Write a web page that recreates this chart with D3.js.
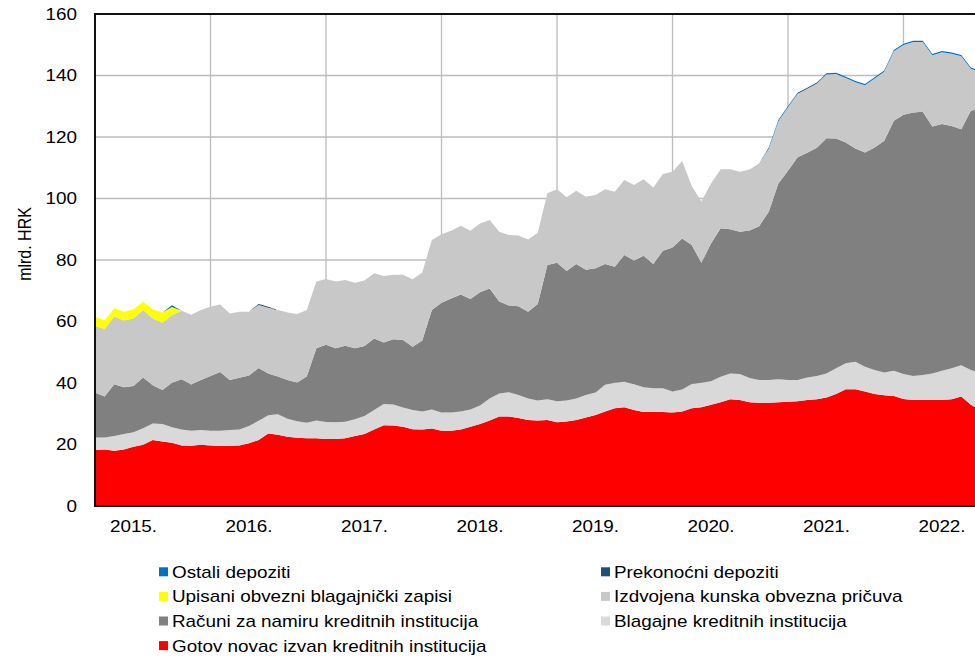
<!DOCTYPE html>
<html><head><meta charset="utf-8">
<script src="https://cdn.jsdelivr.net/npm/d3@7"></script>
<style>
body{margin:0;background:#fff}
svg{display:block;font-family:"Liberation Sans",Arial,sans-serif;font-size:16px}
</style>
</head><body>
<svg id="c" width="975" height="658"></svg>
<script>
// Monthly data, starting September 2014 (bn HRK)
const startMonth = new Date(2014, 8, 1);

const gotovNovac = [
 18.2,18.4,18.0,18.4,19.3,19.9,21.5,21.0,20.6,19.7,
 19.6,19.9,19.7,19.5,19.6,19.7,20.4,21.5,23.6,23.2,
 22.5,22.2,22.0,22.0,21.8,21.8,22.0,22.8,23.4,24.9,
 26.3,26.2,25.8,25.0,24.9,25.2,24.5,24.5,24.9,25.8,
 26.7,27.8,29.1,29.1,28.6,28.0,27.8,28.0,27.2,27.5,
 28.0,28.8,29.6,30.7,31.8,32.1,31.2,30.6,30.6,30.6,
 30.4,30.7,31.8,32.1,32.9,33.7,34.7,34.5,33.7,33.6,
 33.6,33.7,33.9,34.1,34.5,34.7,35.3,36.4,38.0,38.0,
 37.2,36.4,36.0,35.8,34.8,34.5,34.5,34.5,34.5,34.7,
 35.6,32.9,31.2];

const blagajne = [
 4.1,3.9,4.8,5.0,4.7,5.4,5.3,5.7,5.0,5.2,
 4.9,4.8,4.8,5.0,5.1,5.2,5.6,6.2,5.9,6.6,
 5.9,5.4,5.1,5.8,5.5,5.4,5.4,5.4,5.9,6.3,
 6.9,6.8,6.2,6.2,5.8,6.2,5.9,5.9,5.8,5.6,
 6.0,7.2,7.5,7.9,7.5,7.0,6.5,6.7,6.9,6.8,
 7.0,7.3,7.3,8.7,8.3,8.3,8.4,8.0,7.7,7.7,
 6.8,7.2,7.9,8.0,7.7,8.3,8.4,8.4,7.9,7.4,
 7.4,7.5,7.1,6.9,7.3,7.6,7.8,8.4,8.4,8.9,
 8.1,7.8,7.4,8.2,8.1,7.8,8.1,8.6,9.5,10.1,
 10.2,11.3,12.2];

const racuni = [
 14.6,13.3,16.8,15.2,15.0,16.5,12.5,11.0,14.5,16.3,
 15.0,16.3,17.8,19.1,16.3,16.8,16.4,17.2,13.6,12.3,
 12.6,12.6,15.0,23.5,25.1,24.1,24.7,23.1,22.7,23.3,
 20.0,21.2,22.0,20.6,23.1,32.3,35.7,37.1,38.1,35.9,
 36.8,35.7,29.9,28.2,28.9,28.2,31.4,43.7,45.0,42.1,
 43.7,40.7,40.4,39.3,37.7,41.2,40.2,42.8,40.4,44.7,
 46.9,49.1,45.2,39.0,44.8,48.3,46.9,46.3,48.0,50.0,
 54.7,63.7,68.0,72.4,73.1,74.2,76.5,74.7,71.8,69.4,
 69.7,72.4,75.4,81.3,84.3,85.7,85.6,80.3,80.2,78.8,
 76.7,84.3,85.9];

const izdvojena = [
 21.6,22.0,22.0,21.7,22.0,21.9,21.7,21.9,22.0,22.3,
 22.7,22.7,22.5,21.9,21.6,21.5,20.8,20.5,21.4,21.6,
 21.9,22.2,21.6,21.7,21.4,21.7,21.4,21.3,21.3,21.2,
 21.6,21.0,21.2,21.9,22.1,22.8,22.3,22.0,22.3,22.2,
 22.4,22.3,22.7,22.9,23.0,23.5,23.2,23.3,23.9,24.0,
 23.8,23.8,23.8,24.3,24.4,24.4,24.6,24.9,24.9,25.0,
 24.6,25.2,19.2,19.9,19.5,19.2,19.5,19.5,19.8,20.4,
 20.5,20.2,20.7,20.7,20.8,20.9,20.7,21.0,21.0,21.5,
 21.8,22.4,22.4,22.6,22.7,22.9,22.7,23.2,23.4,23.5,
 23.8,13.7,11.8];

const upisani = [
 3.1,2.7,2.7,2.9,3.0,2.7,3.0,3.3,2.6,0,
 0,0,0,0,0,0,0,0,0,0,
 0,0,0,0,0,0,0,0,0,0,
 0,0,0,0,0,0,0,0,0,0,
 0,0,0,0,0,0,0,0,0,0,
 0,0,0,0,0,0,0,0,0,0,
 0,0,0,0,0,0,0,0,0,0,
 0,0,0,0,0,0,0,0,0,0,
 0,0,0,0,0,0,0,0,0,0,
 0,0,0];

const prekonocni = [
 0,0,0,0,0,0,0,0,0,0,
 0,0,0,0,0,0,0,0.3,0.3,0,
 0,0,0,0,0,0,0,0,0,0,
 0,0,0,0,0,0,0,0,0,0,
 0,0,0,0,0,0,0,0,0,0,
 0,0,0,0,0,0,0,0,0,0,
 0,0,0,0,0,0,0,0,0,0,
 0,0,0,0.3,0.3,0.3,0,0,0,0,
 0,0,0,0,0,0,0,0,0,0,
 0,0,0];

const ostali = [
 0,0,0,0,0,0,0,0,0.6,0,
 0,0,0,0,0,0,0,0,0,0,
 0,0,0,0,0,0,0,0,0,0,
 0,0,0,0,0,0,0,0,0,0,
 0,0,0,0,0,0,0,0,0,0,
 0,0,0,0,0,0,0,0,0,0,
 0,0,0,0,0,0,0,0,0,0,
 0.4,0.4,0.4,0,0,0,0.4,0.4,0.4,0.4,
 0.4,0.4,0.4,0.4,0.4,0.4,0.4,0.4,0.4,0.4,
 0.4,0.4,0.4];

const yTicks = [0,20,40,60,80,100,120,140,160];
const yTitle = "mlrd. HRK";

// Series in stacking order (bottom -> top)
const seriesKeys = ["gotov","blagajne","racuni","izdvojena","upisani","prekonocni","ostali"];
const seriesNames = {
  gotov: "Gotov novac izvan kreditnih institucija",
  blagajne: "Blagajne kreditnih institucija",
  racuni: "Računi za namiru kreditnih institucija",
  izdvojena: "Izdvojena kunska obvezna pričuva",
  upisani: "Upisani obvezni blagajnički zapisi",
  prekonocni: "Prekonoćni depoziti",
  ostali: "Ostali depoziti"
};
const seriesColors = {
  gotov: "#ff0000",
  blagajne: "#d9d9d9",
  racuni: "#808080",
  izdvojena: "#c8c8c8",
  upisani: "#ffff00",
  prekonocni: "#1f4e79",
  ostali: "#0070c0"
};
// legend layout: rows of [left, right]
const legendRows = [["ostali","prekonocni"],["upisani","izdvojena"],["racuni","blagajne"],["gotov",null]];

const arrays = {gotov:gotovNovac, blagajne, racuni, izdvojena, upisani, prekonocni, ostali};
const months = d3.range(gotovNovac.length).map(i => d3.timeMonth.offset(startMonth, i));
const rows = months.map((d,i) => {
  const r = {i, date:d};
  seriesKeys.forEach(k => r[k] = arrays[k][i]);
  return r;
});

const SX = 1.18; // horizontal text stretch of the original
const svg = d3.select("#c");

const x = d3.scaleLinear().domain([0, 12]).range([95, 210.5]);
const y = d3.scaleLinear().domain([0, 160]).range([506, 14]);
const plotRight = 1000;

// gridlines
const grid = svg.append("g");
grid.selectAll("line.h").data(yTicks.filter(v => v > 0)).join("line")
  .attr("x1", x(0)).attr("x2", plotRight)
  .attr("y1", d => y(d)).attr("y2", d => y(d))
  .attr("stroke", "#bcbcbc").attr("stroke-width", 1.3);
const vGrid = d3.range(12, gotovNovac.length, 12);
grid.selectAll("line.v").data(vGrid).join("line")
  .attr("x1", d => x(d)).attr("x2", d => x(d))
  .attr("y1", y(0)).attr("y2", y(160))
  .attr("stroke", "#bcbcbc").attr("stroke-width", 1.3);

// stacked areas
const stack = d3.stack().keys(seriesKeys);
const stacked = stack(rows);
const area = d3.area()
  .x(d => x(d.data.i))
  .y0(d => y(d[0]))
  .y1(d => y(d[1]));
svg.append("g").selectAll("path").data(stacked).join("path")
  .attr("d", area)
  .attr("fill", d => seriesColors[d.key]);

// plot frame
svg.append("rect")
  .attr("x", x(0)).attr("y", y(160))
  .attr("width", plotRight - x(0)).attr("height", y(0) - y(160))
  .attr("fill", "none").attr("stroke", "#111").attr("stroke-width", 2);

function sText(g, tx, ty, txt, anchor) {
  return g.append("text")
    .attr("transform", `translate(${tx},${ty}) scale(${SX},1)`)
    .attr("text-anchor", anchor)
    .attr("fill", "#000")
    .text(txt);
}

// y tick labels
const yl = svg.append("g");
yTicks.forEach(v => sText(yl, 77, y(v) + 5.7, String(v), "end"));

// x labels at January of each year
const xl = svg.append("g");
const fmt = d3.timeFormat("%Y.");
rows.filter(r => r.date.getMonth() === 0).forEach(r => {
  sText(xl, x(r.i), 532, fmt(r.date), "middle");
});

// y title
svg.append("text")
  .attr("transform", `translate(31,244) rotate(-90) scale(1,${SX})`)
  .attr("text-anchor", "middle")
  .text(yTitle);

// legend
const lg = svg.append("g");
const colX = [159, 601];
legendRows.forEach((row, r) => {
  const cy = 572 + 24.6 * r;
  row.forEach((k, c) => {
    if (!k) return;
    lg.append("rect").attr("x", colX[c]).attr("y", cy - 4.7)
      .attr("width", 9).attr("height", 9).attr("fill", seriesColors[k]);
    sText(lg, colX[c] + 13, cy + 5.7, seriesNames[k], "start");
  });
});
</script>
</body></html>
